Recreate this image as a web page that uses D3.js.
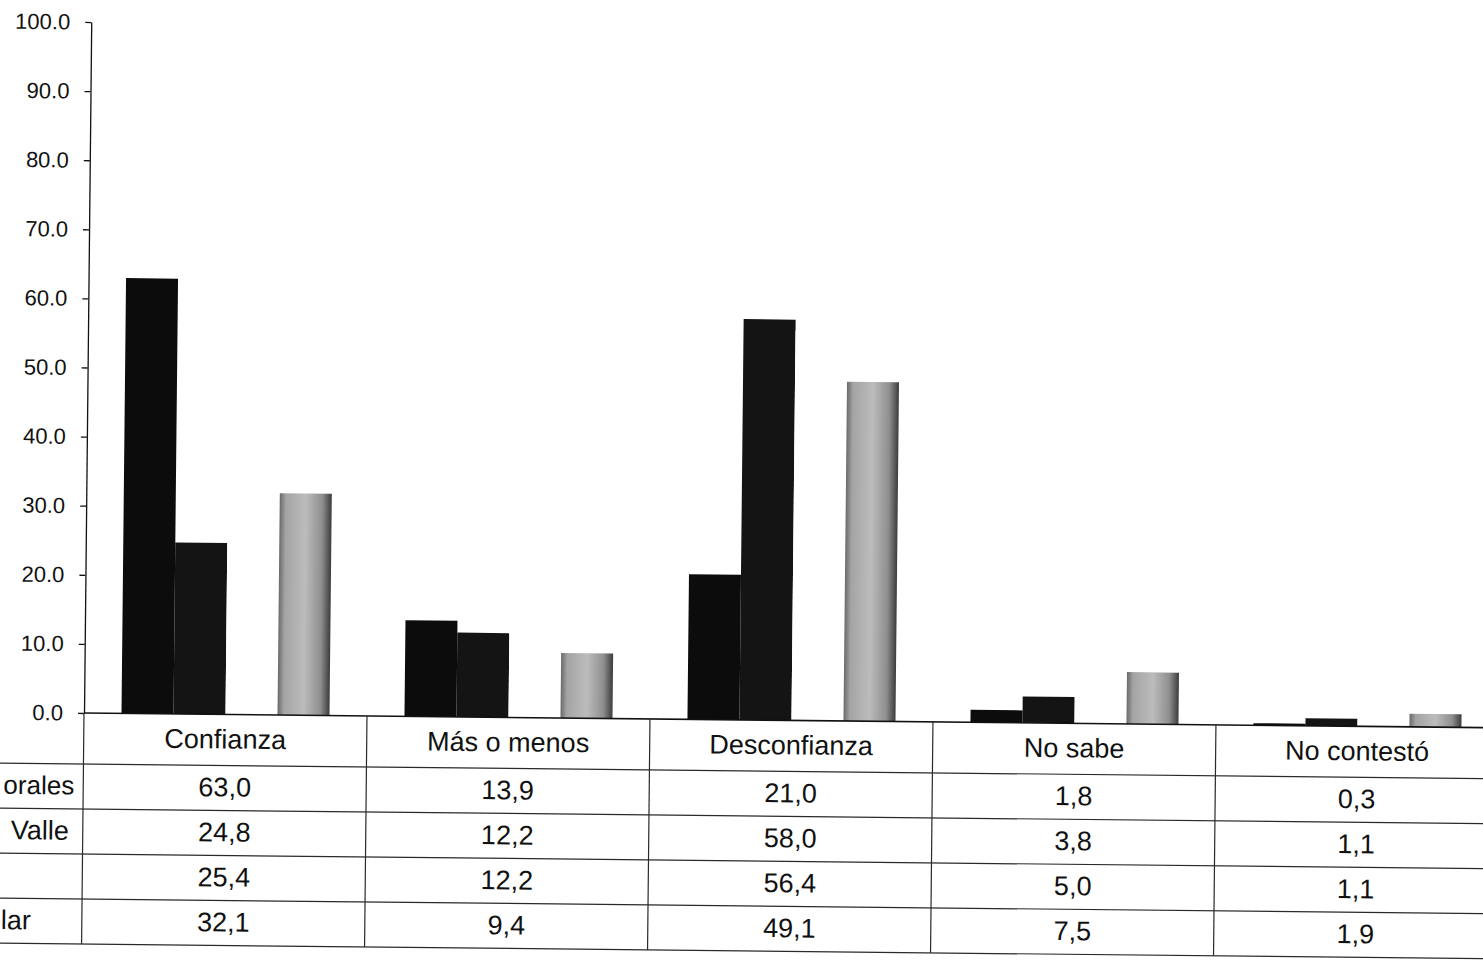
<!DOCTYPE html>
<html>
<head>
<meta charset="utf-8">
<script src="https://cdn.jsdelivr.net/npm/d3@7"></script>
<style>
  html, body { margin: 0; padding: 0; background: #fff; overflow: hidden; }
  svg { display: block; }
  text { font-family: "Liberation Sans", Arial, sans-serif; fill: #111; }
</style>
</head>
<body>
<svg id="chart" width="1483" height="963"></svg>
<script>
// ---- data ----
const categories = ["Confianza", "Más o menos", "Desconfianza", "No sabe", "No contestó"];
const seriesNames = ["orales", "Valle", "", "lar"];   // visible (cropped) row labels
const series1 = [63.0, 13.9, 21.0, 1.8, 0.3];
const series2 = [24.8, 12.2, 58.0, 3.8, 1.1];
const series3 = [25.4, 12.2, 56.4, 5.0, 1.1];
const series4 = [32.1, 9.4, 49.1, 7.5, 1.9];
const yTickValues = [0, 10, 20, 30, 40, 50, 60, 70, 80, 90, 100];

const seriesValues = [series1, series2, series3, series4];

// ---- layout ----
const x0 = 84, yBase = 713, yTop = 22;
const step = 283;
const headerH = 51, rowH = 45;
const labelEnds = [75, 70, 60, 33];
const labelSizes = [26, 27, 27, 27];
const fontTable = 27, fontTick = 22;

const svg = d3.select("#chart");
const defs = svg.append("defs");
const grad = defs.append("linearGradient").attr("id", "g4")
  .attr("x1", "0").attr("y1", "0").attr("x2", "1").attr("y2", "0");
[[0, "#6a6a6a"], [0.12, "#a4a4a4"], [0.5, "#bcbcbc"], [0.82, "#8e8e8e"], [1, "#3c3c3c"]]
  .forEach(([o, c]) => grad.append("stop").attr("offset", o).attr("stop-color", c));

const fills = ["#0c0c0c", "#141414", "#ffffff", "url(#g4)"];

const g = svg.append("g").attr("transform", `rotate(0.6, ${x0}, ${yBase})`);

const x = d3.scaleBand().domain(categories)
  .range([x0, x0 + step * categories.length])
  .paddingInner(0.265).paddingOuter(0.1325);
const xs = d3.scaleBand().domain(d3.range(seriesValues.length)).range([0, x.bandwidth()]);
const y = d3.scaleLinear().domain([0, 100]).range([yBase, yTop]);

// bars
seriesValues.forEach((vals, si) => {
  g.append("g").selectAll("rect").data(vals).join("rect")
    .attr("x", (d, i) => x(categories[i]) + xs(si))
    .attr("width", xs.bandwidth())
    .attr("y", d => y(d))
    .attr("height", d => yBase - y(d))
    .attr("fill", fills[si]);
});

// y axis
const yAxis = d3.axisLeft(y).tickValues(yTickValues).tickFormat(d3.format(".1f"))
  .tickSize(6).tickSizeOuter(0).tickPadding(15);
const ya = g.append("g").attr("transform", `translate(${x0},0)`).call(yAxis);
ya.selectAll("text").style("font-size", fontTick + "px").attr("fill", "#111");
ya.selectAll("line, path").attr("stroke", "#111").attr("stroke-width", 1.3);

// data table
const tableRight = x0 + step * categories.length;
const tl = g.append("g").attr("stroke", "#2a2a2a").attr("stroke-width", 1.2);
tl.append("line").attr("x1", x0).attr("x2", tableRight).attr("y1", yBase).attr("y2", yBase)
  .attr("stroke", "#111").attr("stroke-width", 1.6);
const rowLines = d3.range(seriesValues.length + 1).map(i => yBase + headerH + i * rowH);
tl.selectAll(".h").data(rowLines).join("line")
  .attr("x1", -20).attr("x2", tableRight).attr("y1", d => d).attr("y2", d => d);
const colLines = d3.range(categories.length + 1).map(i => x0 + i * step);
tl.selectAll(".v").data(colLines).join("line")
  .attr("x1", d => d).attr("x2", d => d)
  .attr("y1", yBase).attr("y2", yBase + headerH + rowH * seriesValues.length);

// header texts
g.append("g").selectAll("text").data(categories).join("text")
  .attr("x", d => x(d) + x.bandwidth() / 2)
  .attr("y", yBase + headerH / 2 - 1)
  .attr("dy", "0.35em")
  .attr("text-anchor", "middle")
  .style("font-size", fontTable + "px")
  .text(d => d);

// row labels
g.append("g").selectAll("text").data(seriesNames).join("text")
  .attr("x", (d, i) => labelEnds[i])
  .attr("y", (d, i) => yBase + headerH + rowH * i + rowH / 2 - 1)
  .attr("dy", "0.35em")
  .attr("text-anchor", "end")
  .style("font-size", (d, i) => labelSizes[i] + "px")
  .text(d => d);

// cell values
const fmt = v => d3.format(".1f")(v).replace(".", ",");
seriesValues.forEach((vals, si) => {
  g.append("g").selectAll("text").data(vals).join("text")
    .attr("x", (d, i) => x(categories[i]) + x.bandwidth() / 2)
    .attr("y", yBase + headerH + rowH * si + rowH / 2 - 1)
    .attr("dy", "0.35em")
    .attr("text-anchor", "middle")
    .style("font-size", fontTable + "px")
    .text(d => fmt(d));
});
</script>
</body>
</html>
